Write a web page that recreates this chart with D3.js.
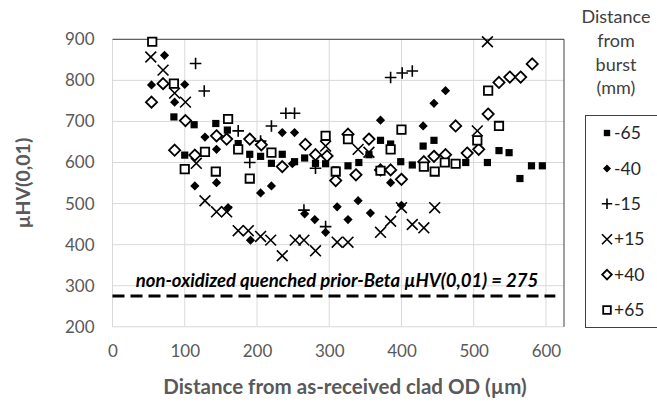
<!DOCTYPE html>
<html>
<head>
<meta charset="utf-8">
<script src="https://cdn.jsdelivr.net/npm/d3@7"></script>
<style>
  body { margin: 0; background: #fff; }
  svg { font-family: Lato, "Open Sans", sans-serif; }
</style>
</head>
<body>
<div id="chart"></div>
<script>
// tick values
const xTicks = [0, 100, 200, 300, 400, 500, 600];
const yTicks = [200, 300, 400, 500, 600, 700, 800, 900];

// series: [distance from OD (um), microhardness]
const seriesNames = ['-65', '-40', '-15', '+15', '+40', '+65'];

const m65 = [
  [85, 711], [113, 692], [143, 695], [159, 679], [100, 618], [174, 646],
  [190, 620], [205, 615], [220, 598], [235, 620], [252, 602], [266, 611],
  [281, 598], [295, 597], [309, 582], [326, 592], [341, 600], [355, 619],
  [371, 654], [385, 645], [399, 602], [415, 594], [430, 640], [445, 654],
  [460, 602], [489, 600], [519, 600], [535, 629], [549, 624], [564, 561],
  [580, 592], [595, 592]
];
const m40 = [
  [72, 861], [54, 789], [100, 790], [86, 747], [128, 662], [114, 543],
  [144, 632], [144, 551], [160, 490], [191, 411], [205, 526], [220, 543],
  [235, 673], [252, 673], [249, 597], [266, 475], [280, 461], [295, 430],
  [311, 492], [326, 461], [340, 507], [357, 477], [371, 703], [385, 551],
  [400, 496], [430, 689], [445, 744], [461, 775]
];
const m15 = [
  [115, 841], [127, 774], [174, 677], [190, 600], [205, 652], [220, 689],
  [240, 720], [252, 720], [265, 484], [281, 586], [295, 444], [385, 807],
  [401, 818], [415, 823]
];
const p15 = [
  [53, 857], [70, 825], [86, 769], [101, 747], [116, 598], [128, 507],
  [144, 480], [158, 480], [174, 434], [188, 434], [205, 420], [219, 411],
  [235, 373], [253, 411], [265, 411], [281, 385], [295, 640], [311, 406],
  [326, 406], [340, 632], [355, 625], [371, 430], [385, 457], [400, 490],
  [415, 449], [431, 441], [446, 490], [505, 677], [519, 894]
];
const p40 = [
  [54, 747], [70, 792], [86, 630], [101, 702], [114, 618], [144, 665],
  [158, 657], [190, 657], [206, 643], [235, 590], [267, 644], [281, 619],
  [297, 616], [309, 556], [326, 669], [337, 570], [355, 657], [371, 582],
  [385, 582], [400, 559], [431, 602], [445, 615], [461, 619], [475, 689],
  [491, 623], [507, 632], [520, 718], [535, 795], [550, 808], [565, 808],
  [581, 840]
];
const p65 = [
  [55, 894], [85, 792], [128, 626], [100, 584], [143, 578], [160, 706],
  [174, 632], [190, 561], [220, 624], [295, 665], [309, 578], [326, 657],
  [371, 580], [385, 632], [400, 680], [431, 590], [446, 578], [460, 600],
  [475, 597], [505, 654], [520, 775], [535, 689]
];

const seriesData = [m65, m40, m15, p15, p40, p65];

const baseline = 275;          // non-oxidized prior-beta hardness
const baselineExtent = [0, 613];

const width = 657;
const height = 403;

const xScale = d3.scaleLinear()
  .domain([0, 625])
  .range([112.5, 564]);

const yScale = d3.scaleLinear()
  .domain([200, 900])
  .range([326.8, 39.3]);

const svg = d3.select('#chart')
  .append('svg')
  .attr('width', width)
  .attr('height', height);

// grid
svg.append('g')
  .selectAll('line')
  .data(yTicks)
  .join('line')
  .attr('x1', xScale(0))
  .attr('x2', xScale(625))
  .attr('y1', d => yScale(d))
  .attr('y2', d => yScale(d))
  .attr('stroke', '#d9d9d9');

svg.append('g')
  .selectAll('line')
  .data(xTicks)
  .join('line')
  .attr('x1', d => xScale(d))
  .attr('x2', d => xScale(d))
  .attr('y1', yScale(200))
  .attr('y2', yScale(900))
  .attr('stroke', '#d9d9d9');

// plot border, top and right
svg.append('path')
  .attr('d', `M${xScale(0)},${yScale(900)}H${xScale(625)}V${yScale(200)}`)
  .attr('fill', 'none')
  .attr('stroke', '#404040');

// axes (labels only, Excel style)
const xAxis = d3.axisBottom(xScale).tickValues(xTicks).tickSize(0).tickPadding(18);
const yAxis = d3.axisLeft(yScale).tickValues(yTicks).tickSize(0).tickPadding(18);

svg.append('g')
  .attr('transform', `translate(0,${yScale(200)})`)
  .call(xAxis)
  .call(g => g.select('.domain').remove())
  .selectAll('text')
  .attr('font-size', 17)
  .attr('font-family', 'Lato')
  .attr('fill', '#595959');

svg.append('g')
  .attr('transform', `translate(${xScale(0)},0)`)
  .call(yAxis)
  .call(g => g.select('.domain').remove())
  .selectAll('text')
  .attr('font-size', 17)
  .attr('font-family', 'Lato')
  .attr('fill', '#595959');

// axis titles
svg.append('text')
  .attr('x', 345)
  .attr('y', 394)
  .attr('text-anchor', 'middle')
  .attr('font-size', 20.5)
  .attr('font-weight', 'bold')
  .attr('fill', '#595959')
  .text('Distance from as-received clad OD (µm)');

svg.append('text')
  .attr('transform', `translate(30,${yScale(550)}) rotate(-90)`)
  .attr('text-anchor', 'middle')
  .attr('font-size', 19.5)
  .attr('font-weight', 'bold')
  .attr('fill', '#595959')
  .text('µHV(0,01)');

// reference line
svg.append('line')
  .attr('x1', xScale(baselineExtent[0]))
  .attr('x2', xScale(baselineExtent[1]))
  .attr('y1', yScale(baseline))
  .attr('y2', yScale(baseline))
  .attr('stroke', '#000')
  .attr('stroke-width', 3)
  .attr('stroke-dasharray', '12,6');

svg.append('text')
  .attr('x', 337)
  .attr('y', yScale(baseline) - 9)
  .attr('text-anchor', 'middle')
  .attr('font-size', 18.5)
  .attr('font-weight', 'bold')
  .attr('font-style', 'italic')
  .attr('fill', '#000')
  .text('non-oxidized quenched prior-Beta µHV(0,01) = ' + baseline);

// marker shapes
const markers = [
  { path: s => `M${-s},${-s}h${2 * s}v${2 * s}h${-2 * s}Z`, fill: '#000', stroke: 'none', sw: 0 },
  { path: s => `M0,${-s}L${s},0L0,${s}L${-s},0Z`, fill: '#000', stroke: 'none', sw: 0 },
  { path: s => `M${-s},0H${s}M0,${-s}V${s}`, fill: 'none', stroke: '#000', sw: 1.6 },
  { path: s => `M${-s},${-s}L${s},${s}M${-s},${s}L${s},${-s}`, fill: 'none', stroke: '#000', sw: 1.6 },
  { path: s => `M0,${-s}L${s},0L0,${s}L${-s},0Z`, fill: '#fff', stroke: '#000', sw: 1.8 },
  { path: s => `M${-s},${-s}h${2 * s}v${2 * s}h${-2 * s}Z`, fill: '#fff', stroke: '#000', sw: 1.8 }
];
const plotSize = [3.6, 4.6, 5.8, 5.4, 5.6, 4.2];
const legendSize = [3.2, 4, 5.2, 5, 4.8, 3.8];

seriesData.forEach((data, i) => {
  const m = markers[i];
  svg.append('g')
    .selectAll('path')
    .data(data)
    .join('path')
    .attr('transform', d => `translate(${xScale(d[0])},${yScale(d[1])})`)
    .attr('d', m.path(plotSize[i]))
    .attr('fill', m.fill)
    .attr('stroke', m.stroke)
    .attr('stroke-width', m.sw);
});

// legend
const legendTitle = ['Distance', 'from', 'burst', '(mm)'];
svg.append('g')
  .selectAll('text')
  .data(legendTitle)
  .join('text')
  .attr('x', 616)
  .attr('y', (d, i) => 23 + i * 23.8)
  .attr('text-anchor', 'middle')
  .attr('font-size', 18)
  .attr('fill', '#404040')
  .text(d => d);

svg.append('rect')
  .attr('x', 585.5)
  .attr('y', 115.5)
  .attr('width', 80)
  .attr('height', 212)
  .attr('fill', '#fff')
  .attr('stroke', '#404040');

const legend = svg.append('g')
  .selectAll('g')
  .data(seriesNames)
  .join('g')
  .attr('transform', (d, i) => `translate(607,${133 + i * 35.4})`);

legend.append('path')
  .attr('d', (d, i) => markers[i].path(legendSize[i]))
  .attr('fill', (d, i) => markers[i].fill)
  .attr('stroke', (d, i) => markers[i].stroke)
  .attr('stroke-width', (d, i) => markers[i].sw);

legend.append('text')
  .attr('x', 7)
  .attr('dy', '0.35em')
  .attr('font-size', 17.5)
  .attr('fill', '#262626')
  .text(d => d);
</script>
</body>
</html>
